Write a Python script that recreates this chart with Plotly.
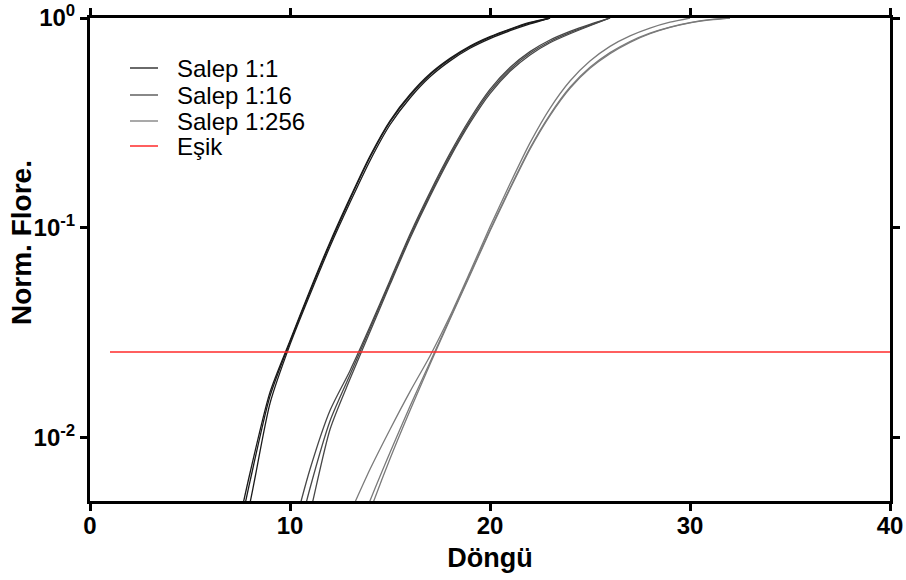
import plotly.graph_objects as go

# ---------------- data ----------------
cycles_g1 = [7, 8, 9, 10, 11, 12, 13, 14, 15, 16, 17, 18, 19, 20, 21, 22, 23]
salep_1_1_a = [0.0025, 0.0068, 0.0165, 0.0290, 0.0505, 0.0855, 0.139, 0.220, 0.324, 0.432, 0.542, 0.642, 0.735, 0.815, 0.886, 0.952, 1.0]
salep_1_1_b = [0.0022, 0.0062, 0.0158, 0.0286, 0.0497, 0.0840, 0.137, 0.217, 0.320, 0.427, 0.536, 0.636, 0.729, 0.809, 0.880, 0.947, 1.0]
salep_1_1_c = [0.0020, 0.0049, 0.0146, 0.0278, 0.0482, 0.0815, 0.132, 0.209, 0.310, 0.416, 0.525, 0.625, 0.718, 0.798, 0.870, 0.938, 1.0]

cycles_g2 = [10, 11, 12, 13, 14, 15, 16, 17, 18, 19, 20, 21, 22, 23, 24, 25, 26]
salep_1_16_a = [0.00316, 0.00708, 0.01349, 0.02089, 0.03388, 0.05623, 0.09333, 0.1479, 0.2265, 0.3311, 0.4571, 0.5808, 0.6918, 0.7852, 0.8630, 0.9333, 1.0]
salep_1_16_b = [0.00240, 0.00575, 0.01202, 0.01995, 0.03311, 0.05495, 0.09120, 0.1445, 0.2213, 0.3236, 0.4467, 0.5689, 0.6792, 0.7727, 0.8511, 0.9247, 1.0]
salep_1_16_c = [0.00178, 0.00437, 0.01096, 0.01905, 0.03199, 0.05370, 0.08913, 0.1413, 0.2163, 0.3162, 0.4365, 0.5572, 0.6668, 0.7621, 0.8414, 0.9183, 1.0]

cycles_g3_a = [12, 13, 14, 15, 16, 17, 18, 19, 20, 21, 22, 23, 24, 25, 26, 27, 28, 29, 30]
salep_1_256_a = [0.00269, 0.00437, 0.00708, 0.01096, 0.0166, 0.02455, 0.03802, 0.06166, 0.1012, 0.1622, 0.2541, 0.3715, 0.5012, 0.6237, 0.7328, 0.8222, 0.8954, 0.955, 1.0]
cycles_g3_bc = [13, 14, 15, 16, 17, 18, 19, 20, 21, 22, 23, 24, 25, 26, 27, 28, 29, 30, 31, 32]
salep_1_256_b = [0.00282, 0.00501, 0.00851, 0.01413, 0.02291, 0.03715, 0.06026, 0.09772, 0.1549, 0.2399, 0.3467, 0.4677, 0.5821, 0.6839, 0.7727, 0.8472, 0.9057, 0.9506, 0.9817, 1.0]
salep_1_256_c = [0.00240, 0.00447, 0.00794, 0.01349, 0.02239, 0.03673, 0.05957, 0.09661, 0.1531, 0.2371, 0.3428, 0.4624, 0.5754, 0.6761, 0.7656, 0.8414, 0.9016, 0.9484, 0.9795, 1.0]

threshold_cycles = [1, 40]
threshold_value = 0.0256

legend_labels = ["Salep 1:1", "Salep 1:16", "Salep 1:256", "Eşik"]
series_colors = ["#1a1a1a", "#474747", "#7a7a7a", "#ff2a2a"]

y_tickvals = [0.01, 0.1, 1]
y_ticktext = ["10<sup>-2</sup>", "10<sup>-1</sup>", "10<sup>0</sup>"]
x_tickvals = [0, 10, 20, 30, 40]

# ---------------- figure ----------------
FONT = "Liberation Sans, Arial, sans-serif"
W, H = 906, 580
ML, MR, MT, MB = 90, 16, 18, 79
PW, PH = W - ML - MR, H - MT - MB

fig = go.Figure()

groups = [
    (legend_labels[0], series_colors[0], [(cycles_g1, salep_1_1_a), (cycles_g1, salep_1_1_b), (cycles_g1, salep_1_1_c)]),
    (legend_labels[1], series_colors[1], [(cycles_g2, salep_1_16_a), (cycles_g2, salep_1_16_b), (cycles_g2, salep_1_16_c)]),
    (legend_labels[2], series_colors[2], [(cycles_g3_a, salep_1_256_a), (cycles_g3_bc, salep_1_256_b), (cycles_g3_bc, salep_1_256_c)]),
]
for name, color, reps in groups:
    for i, (xs, ys) in enumerate(reps):
        fig.add_trace(go.Scatter(
            x=xs, y=ys, mode="lines", name=name, legendgroup=name,
            showlegend=False, line=dict(color=color, width=1.3, shape="spline", smoothing=0.7),
        ))

fig.add_trace(go.Scatter(
    x=threshold_cycles, y=[threshold_value] * len(threshold_cycles), mode="lines",
    name=legend_labels[3], showlegend=False, line=dict(color=series_colors[3], width=1.5),
))

# legend (drawn as line samples + text, to match the tight row spacing)
def px_x(p):
    return (p - ML) / PW

def px_y(p):
    return (H - MB - p) / PH

leg_rows_px = [68, 95, 121, 146]
for label, color, row in zip(legend_labels, series_colors, leg_rows_px):
    fig.add_shape(type="line", xref="paper", yref="paper",
                  x0=px_x(130), x1=px_x(158), y0=px_y(row), y1=px_y(row),
                  line=dict(color=color, width=1.5 if color == series_colors[3] else 1.3))
    fig.add_annotation(xref="paper", yref="paper", x=px_x(175), y=px_y(row),
                       xanchor="left", yanchor="middle", showarrow=False, text=label,
                       font=dict(family=FONT, size=24, color="black"))

# y-axis title
fig.add_annotation(xref="paper", yref="paper", x=px_x(21), y=px_y(243), xanchor="center", yanchor="middle",
                   textangle=-90, showarrow=False, text="Norm. Flore.",
                   font=dict(family=FONT, size=28, color="black", weight="bold"))

axis_common = dict(
    showline=True, linewidth=3, linecolor="black", mirror="ticks",
    ticks="outside", ticklen=7, tickwidth=3, tickcolor="black",
    showgrid=False, zeroline=False, automargin=False,
    tickfont=dict(family=FONT, size=24, color="black", weight="bold"),
)

fig.update_layout(
    width=W, height=H,
    margin=dict(l=ML, r=MR, t=MT, b=MB),
    paper_bgcolor="white", plot_bgcolor="white",
    font=dict(family=FONT, color="black"),
    xaxis=dict(range=[0, 40], tickvals=x_tickvals, ticklabelstandoff=-6,
               title=dict(text="Döngü", font=dict(family=FONT, size=27, weight="bold"), standoff=11),
               **axis_common),
    yaxis=dict(type="log", range=[-2.301, 0], tickvals=y_tickvals, ticktext=y_ticktext,
               ticklabelstandoff=0, **axis_common),
    showlegend=False,
)

fig.write_html("out.html")
